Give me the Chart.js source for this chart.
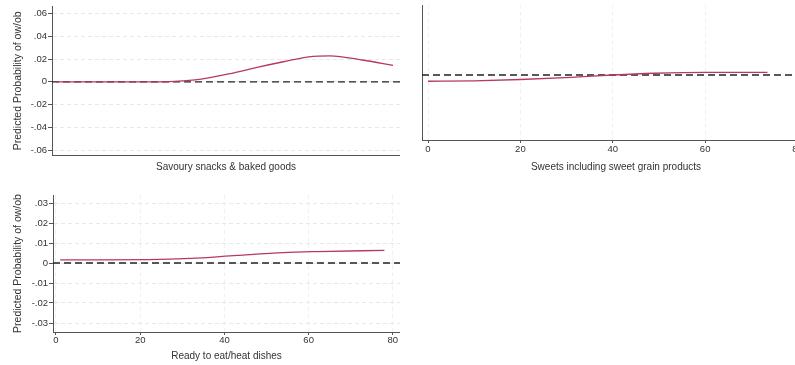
<!DOCTYPE html>
<html>
<head>
<meta charset="utf-8">
<script src="https://cdn.jsdelivr.net/npm/chart.js@4/dist/chart.umd.min.js"></script>
<style>
  html, body { margin: 0; background: #fff; overflow: hidden; width: 795px; height: 365px; position: relative; }
  canvas { position: absolute; }
</style>
</head>
<body>
<canvas id="snacks" width="400" height="180" style="left:0;top:0"></canvas>
<canvas id="sweets" width="420" height="180" style="left:400px;top:0"></canvas>
<canvas id="ready" width="400" height="185" style="left:0;top:180px"></canvas>
<script>
const yTitle = 'Predicted Probability of ow/ob';

// Savoury snacks & baked goods
const snacksX = [0, 10, 20, 27, 33, 41, 48, 54, 60, 65, 73, 80];
const snacksY = [0, 0, 0, 0.0002, 0.0017, 0.007, 0.013, 0.0177, 0.022, 0.0229, 0.019, 0.0145];
const snacksYTicks = [-0.06, -0.04, -0.02, 0, 0.02, 0.04, 0.06];

// Sweets including sweet grain products
const sweetsX = [0, 10, 20, 31, 40, 49, 60, 73.5];
const sweetsY = [-0.0058, -0.0054, -0.0042, -0.0022, 0, 0.0016, 0.0025, 0.0025];
const sweetsXTicks = [0, 20, 40, 60, 80];

// Ready to eat/heat dishes
const readyX = [1, 10, 22, 32, 43, 54, 62, 78];
const readyY = [0.0016, 0.0016, 0.0017, 0.0023, 0.0038, 0.0052, 0.0057, 0.0063];
const readyYTicks = [-0.03, -0.02, -0.01, 0, 0.01, 0.02, 0.03];
const readyXTicks = [0, 20, 40, 60, 80];

const FONT = '"Liberation Sans", Arial, sans-serif';
const lineColor = '#b53866';
const axisColor = '#555';
const textColor = '#333';

function fmt(v) {
    if (v === 0) return '0';
    return (v < 0 ? '-' : '') + Math.abs(v).toFixed(2).replace(/^0/, '');
}

function panel(id, p) {
    const pts = p.x.map((x, i) => ({ x: x, y: p.y[i] }));
    new Chart(document.getElementById(id), {
        type: 'line',
        data: {
            datasets: [{
                data: pts,
                borderColor: lineColor,
                borderWidth: 1.3,
                pointRadius: 0,
                cubicInterpolationMode: 'monotone'
            }, {
                data: [{ x: p.xMin, y: 0 }, { x: p.xMax, y: 0 }],
                borderColor: '#222',
                borderWidth: 1.3,
                borderDash: [7, 4],
                pointRadius: 0
            }]
        },
        options: {
            responsive: false,
            animation: false,
            events: [],
            layout: { padding: { top: p.top, right: p.right, left: 0, bottom: 0 } },
            plugins: { legend: { display: false }, tooltip: { enabled: false } },
            scales: {
                x: {
                    type: 'linear',
                    min: p.xMin,
                    max: p.xMax,
                    afterBuildTicks: s => { if (p.xTicks) s.ticks = p.xTicks.map(v => ({ value: v })); },
                    afterFit: s => { s.height = p.xHeight; },
                    ticks: {
                        display: !!p.xTicks,
                        color: textColor,
                        padding: p.xTickPad,
                        maxRotation: 0,
                        font: { family: FONT, size: 9.5 }
                    },
                    grid: {
                        display: !!p.xTicks,
                        color: '#f0f0f0',
                        tickColor: axisColor,
                        tickLength: 3
                    },
                    border: { color: axisColor, dash: [4, 3] },
                    title: {
                        display: true,
                        text: p.xTitle,
                        color: textColor,
                        font: { family: FONT, size: 10 },
                        padding: { top: 0, bottom: p.xTitlePad }
                    }
                },
                y: {
                    type: 'linear',
                    min: p.yMin,
                    max: p.yMax,
                    afterBuildTicks: s => { if (p.yTicks) s.ticks = p.yTicks.map(v => ({ value: v })); },
                    afterFit: s => { s.width = p.yWidth; },
                    ticks: {
                        display: !!p.yTicks,
                        color: textColor,
                        padding: 1,
                        callback: v => fmt(v),
                        font: { family: FONT, size: 9.5 }
                    },
                    grid: {
                        display: !!p.yTicks,
                        color: '#e8e8e8',
                        tickColor: axisColor,
                        tickLength: 4
                    },
                    border: { color: axisColor, dash: [4, 3] },
                    title: {
                        display: !!p.yTicks,
                        text: yTitle,
                        color: textColor,
                        font: { family: FONT, size: 10.5 },
                        padding: { top: 12, bottom: 0 }
                    }
                }
            }
        }
    });
}

panel('snacks', {
    x: snacksX, y: snacksY, yTicks: snacksYTicks, xTicks: null,
    xMin: -0.95, xMax: 81.66, yMin: -0.0643, yMax: 0.0661,
    top: 5, right: 0, yWidth: 52, xHeight: 25, xTickPad: 0, xTitlePad: 7,
    xTitle: 'Savoury snacks & baked goods'
});

panel('sweets', {
    x: sweetsX, y: sweetsY, yTicks: null, xTicks: sweetsXTicks,
    xMin: -1.3, xMax: 82.7, yMin: -0.0602, yMax: 0.0648,
    top: 5, right: 10, yWidth: 22, xHeight: 40, xTickPad: 1, xTitlePad: 7,
    xTitle: 'Sweets including sweet grain products'
});

panel('ready', {
    x: readyX, y: readyY, yTicks: readyYTicks, xTicks: readyXTicks,
    xMin: -0.71, xMax: 81.7, yMin: -0.0345, yMax: 0.034,
    top: 15, right: 0, yWidth: 53, xHeight: 33, xTickPad: 0, xTitlePad: 3,
    xTitle: 'Ready to eat/heat dishes'
});
</script>
</body>
</html>
